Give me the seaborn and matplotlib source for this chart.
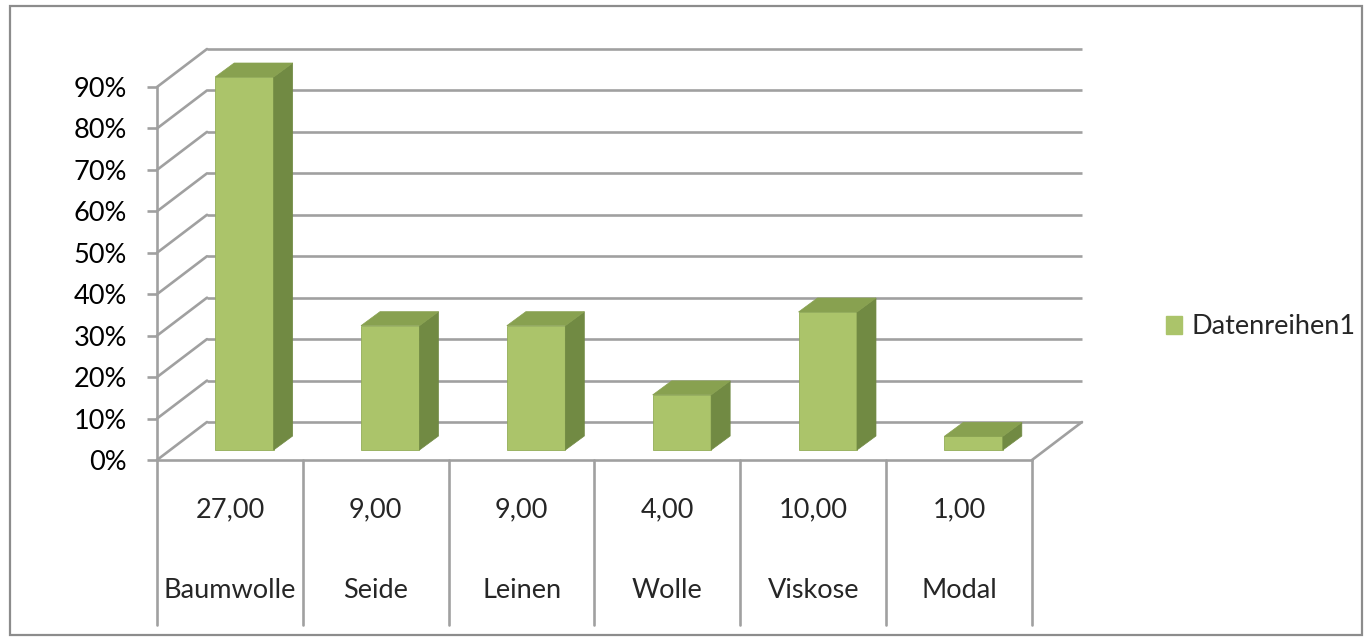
import matplotlib.pyplot as plt
import seaborn as sns
from matplotlib.patches import Polygon, Rectangle, Patch

# Data
categories = ["Baumwolle", "Seide", "Leinen", "Wolle", "Viskose", "Modal"]
count_labels = ["27,00", "9,00", "9,00", "4,00", "10,00", "1,00"]
shares = [0.90, 0.30, 0.30, 0.133, 0.333, 0.033]
ytick_values = [0.0, 0.1, 0.2, 0.3, 0.4, 0.5, 0.6, 0.7, 0.8, 0.9]
ytick_labels = ["0%", "10%", "20%", "30%", "40%", "50%", "60%", "70%", "80%", "90%"]
series_name = "Datenreihen1"

# Colours (Excel olive 3D column)
front_col = "#abc46a"
side_col = "#718a43"
top_col = "#88a150"
edge_col = "#93ad57"
grid_col = "#a0a0a0"

sns.set_theme(style="white")
plt.rcParams['font.family'] = ['Lato', 'DejaVu Sans']
fs = 19.5

W, H = 1370, 642
fig = plt.figure(figsize=(W / 100, H / 100), dpi=100)
# axes = front plane of the 3D box (pixels 157..1032 x, 87..460 y)
ax = fig.add_axes([157 / W, 1 - 460 / H, 875 / W, 373 / H])

# pseudo-3D depth offsets in data units
px_x = 875 / 6.0          # pixels per category
px_y = 373 / 0.9          # pixels per unit share
Dx, Dy = 50 / px_x, 38 / px_y     # full wall depth
sx, sy = 14.5 / px_x, 10 / px_y   # bar front offset from front plane
bx, by = 19 / px_x, 14 / px_y     # bar depth

sns.barplot(x=categories, y=shares, color=front_col, saturation=1, width=0.401,
            edgecolor=edge_col, linewidth=0.6, ax=ax, zorder=3)

ax.set_xlim(-0.5, 5.5)
ax.set_ylim(0, 0.9)
for s in ax.spines.values():
    s.set_visible(False)

lw = 1.9
# back wall gridlines and left wall diagonals
for v in ytick_values:
    ax.plot([-0.5 + Dx, 5.5 + Dx], [v + Dy, v + Dy], color=grid_col, lw=lw,
            clip_on=False, zorder=1, solid_capstyle='butt')
    ax.plot([-0.5, -0.5 + Dx], [v, v + Dy], color=grid_col, lw=lw,
            clip_on=False, zorder=1)
# floor
ax.plot([-0.5, 5.5], [0, 0], color=grid_col, lw=lw, clip_on=False, zorder=1)
ax.plot([5.5, 5.5 + Dx], [0, Dy], color=grid_col, lw=lw, clip_on=False, zorder=1)
# vertical axis
ax.plot([-0.5, -0.5], [0, 0.9], color=grid_col, lw=lw, clip_on=False, zorder=1)

# category separators below the floor
for b in range(len(categories) + 1):
    ax.plot([b - 0.5, b - 0.5], [0, -165 / px_y], color=grid_col, lw=lw,
            clip_on=False, zorder=1)

# turn flat bars into 3D columns
for p in ax.patches:
    x0 = p.get_x() + sx
    w = p.get_width()
    h = p.get_height()
    p.set_x(x0)
    p.set_y(sy)
    p.set_clip_on(False)
    x1 = x0 + w
    y0 = sy
    y1 = sy + h
    side = Polygon([(x1, y0), (x1 + bx, y0 + by), (x1 + bx, y1 + by), (x1, y1)],
                   closed=True, facecolor=side_col, edgecolor=side_col, lw=0.5,
                   zorder=3, clip_on=False)
    top = Polygon([(x0, y1), (x0 + bx, y1 + by), (x1 + bx, y1 + by), (x1, y1)],
                  closed=True, facecolor=top_col, edgecolor=top_col, lw=0.5,
                  zorder=3, clip_on=False)
    ax.add_patch(side)
    ax.add_patch(top)

# ticks
ax.set_xticks([])
ax.set_yticks(ytick_values, ytick_labels)
ax.tick_params(axis='y', left=True, length=7.5, width=lw, color=grid_col,
               pad=14, labelsize=fs, labelcolor='black')

# category table under the floor
for i, (cat, lab) in enumerate(zip(categories, count_labels)):
    ax.text(i, -50 / px_y, lab, ha='center', va='center', fontsize=fs, clip_on=False)
    ax.text(i, -130 / px_y, cat, ha='center', va='center', fontsize=fs, clip_on=False)

# legend
handle = Patch(facecolor=front_col, edgecolor=front_col, label=series_name)
fig.legend(handles=[handle], loc='center left', frameon=False, fontsize=fs,
           bbox_to_anchor=(1166 / W, 1 - 327 / H), bbox_transform=fig.transFigure,
           handlelength=0.6, handleheight=0.6, handletextpad=0.35, borderpad=0,
           borderaxespad=0)

# outer chart border
fig.add_artist(Rectangle((10 / W, 1 - 635 / H), 1352 / W, 629 / H,
                         transform=fig.transFigure, fill=False,
                         edgecolor="#8c8c8c", lw=1.6))

fig.savefig("out.png", dpi=100)
